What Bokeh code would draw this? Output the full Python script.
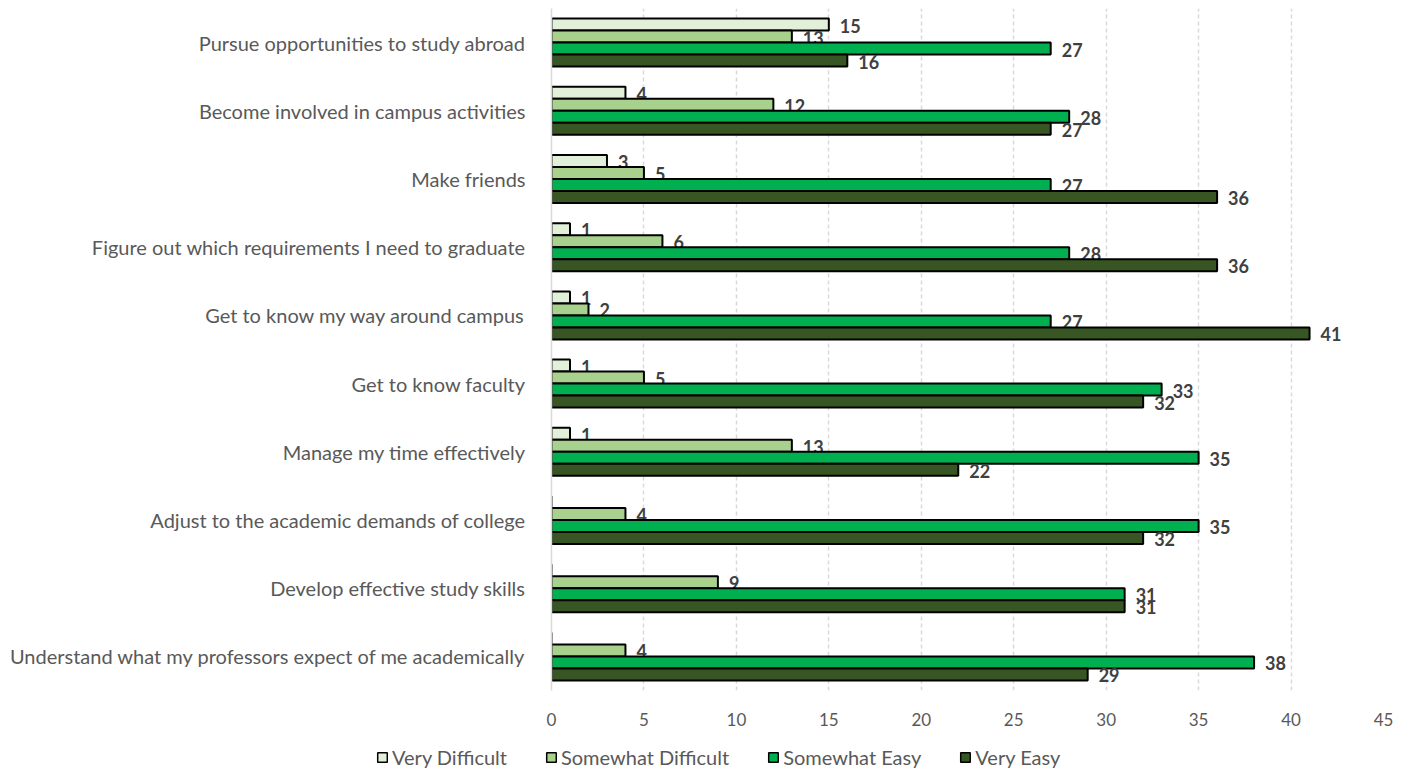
from bokeh.plotting import figure
from bokeh.layouts import column
from bokeh.models import ColumnDataSource, FactorRange, Range1d, Legend, LegendItem, FixedTicker
from bokeh.transform import dodge
from bokeh.core.properties import value
from bokeh.embed import file_html
from bokeh.resources import INLINE

categories = [
    "Pursue opportunities to study abroad",
    "Become involved in campus activities",
    "Make friends",
    "Figure out which requirements I need to graduate",
    "Get to know my way around campus",
    "Get to know faculty",
    "Manage my time effectively",
    "Adjust to the academic demands of college",
    "Develop effective study skills",
    "Understand what my professors expect of me academically",
]
series_names = ["Very Difficult", "Somewhat Difficult", "Somewhat Easy", "Very Easy"]
very_difficult = [15, 4, 3, 1, 1, 1, 1, 0, 0, 0]
somewhat_difficult = [13, 12, 5, 6, 2, 5, 13, 4, 9, 4]
somewhat_easy = [27, 28, 27, 28, 27, 33, 35, 35, 31, 38]
very_easy = [16, 27, 36, 36, 41, 32, 22, 32, 31, 29]
x_ticks = [0, 5, 10, 15, 20, 25, 30, 35, 40, 45]
colors = ["#E2F0D9", "#A9D18E", "#00B050", "#375623"]

series_values = [very_difficult, somewhat_difficult, somewhat_easy, very_easy]
offsets = [0.264, 0.088, -0.088, -0.264]
bar_h = 0.176

FONT = "Lato"
p = figure(
    width=1400, height=740,
    y_range=FactorRange(factors=list(reversed(categories))),
    x_range=Range1d(0, 45),
    output_backend="svg", toolbar_location=None,
    min_border_left=551, min_border_right=17, min_border_top=8, min_border_bottom=50,
)
p.frame_align = False
p.outline_line_color = None
p.background_fill_color = "white"

for name, vals, col, off in zip(series_names, series_values, colors, offsets):
    src = ColumnDataSource(dict(cat=categories, v=vals))
    p.hbar(y=dodge("cat", off, range=p.y_range), right="v", left=0, height=bar_h,
           source=src, fill_color=col, line_color="black", line_width=2)
    lab_cats = [c for c, v in zip(categories, vals) if v > 0]
    lab_vals = [v for v in vals if v > 0]
    lsrc = ColumnDataSource(dict(cat=lab_cats, v=lab_vals, t=[str(v) for v in lab_vals]))
    p.text(x="v", y=dodge("cat", off, range=p.y_range), text="t", source=lsrc,
           x_offset=11, y_offset=1, text_baseline="middle", text_align="left",
           text_font=value(FONT), text_font_style="bold", text_font_size="18px",
           text_color="#404040")

p.xaxis.ticker = FixedTicker(ticks=x_ticks)
p.xaxis.axis_line_color = None
p.xaxis.major_tick_line_color = None
p.xaxis.minor_tick_line_color = None
p.xaxis.major_label_text_font = FONT
p.xaxis.major_label_text_font_size = "17px"
p.xaxis.major_label_text_color = "#595959"
p.xaxis.major_label_standoff = 16

p.yaxis.axis_line_color = "#D9D9D9"
p.yaxis.axis_line_width = 1.5
p.yaxis.major_tick_line_color = None
p.yaxis.minor_tick_line_color = None
p.yaxis.major_label_text_font = FONT
p.yaxis.major_label_text_font_size = "20px"
p.yaxis.major_label_text_color = "#595959"
p.yaxis.major_label_standoff = 20

p.xgrid.grid_line_color = "#D9D9D9"
p.xgrid.grid_line_dash = "4 3"
p.xgrid.grid_line_width = 1.5
p.ygrid.grid_line_color = None

# legend strip below the chart (swatch renderers are hidden; only their legend glyphs show)
lf = figure(width=1400, height=30, x_range=Range1d(0, 1), y_range=Range1d(0, 1),
            x_axis_type=None, y_axis_type=None, output_backend="svg", toolbar_location=None,
            min_border_left=0, min_border_right=0, min_border_top=0, min_border_bottom=0)
lf.frame_align = False
lf.outline_line_color = None
lf.border_fill_color = "white"
lf.background_fill_color = "white"
lf.xgrid.visible = False
lf.ygrid.visible = False
items = []
for name, col in zip(series_names, colors):
    sw = ColumnDataSource(dict(y=[50], left=[50], right=[51]))
    r = lf.hbar(y="y", right="right", left="left", height=0.1, source=sw,
                fill_color=col, line_color="black", line_width=1.5)
    r.visible = False
    items.append(LegendItem(label=name, renderers=[r]))
legend = Legend(items=items, orientation="horizontal", location=(376, 1),
                glyph_width=12, glyph_height=12, label_standoff=4, spacing=38,
                padding=0, margin=0, border_line_color=None, background_fill_alpha=0,
                click_policy="none",
                label_text_font=FONT, label_text_font_size="20px", label_text_color="#595959")
lf.add_layout(legend, "center")

layout = column(p, lf, spacing=0)
open("out.html", "w").write(file_html(layout, INLINE))
